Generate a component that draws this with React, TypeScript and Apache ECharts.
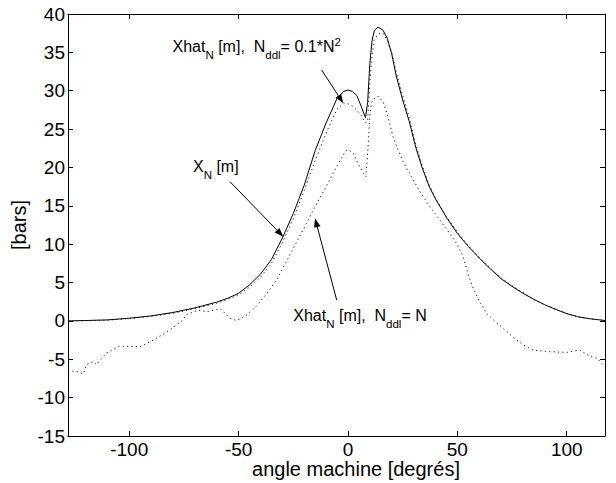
import React, { useEffect, useRef } from "react";
import * as echarts from "echarts";

// ---- data ----
const xTickValues = [-100, -50, 0, 50, 100];
const yMin = -15;
const yMax = 40;
const xMin = -128;
const xMax = 117.5;

// X_N[m] (solid) and Xhat_N[m], Nddl = 0.1*N^2 (dotted) share the same angles
const angles = [
  -128, -120, -110, -100, -90, -80, -70, -60, -55, -50, -45, -40, -35, -30, -25, -20, -15, -10, -5, -2, 0, 2, 4, 6, 8,
  9, 10, 11, 12, 13.7, 16, 18, 20, 22, 25, 28, 31, 34, 37, 40, 45, 50, 55, 60, 65, 70, 75, 80, 85, 90, 95, 100, 105,
  110, 117.5,
];
const xN = [
  0, 0.05, 0.13, 0.35, 0.65, 1.1, 1.7, 2.45, 2.95, 3.6, 4.7, 6.1, 8.0, 10.8, 14.0, 17.7, 22.2, 25.8, 29.0, 29.9, 30.1,
  29.9, 29.4, 28.0, 26.5, 28.5, 33.6, 36.5, 37.8, 38.3, 37.9, 36.8, 34.8, 32.0, 28.8, 26.0, 22.6, 19.9, 17.6, 15.9,
  13.5, 11.4, 9.7, 8.2, 6.8, 5.5, 4.5, 3.6, 2.8, 2.1, 1.5, 0.95, 0.55, 0.3, 0.05,
];
const xhatQuad = [
  0, 0.03, 0.1, 0.3, 0.6, 1.0, 1.6, 2.3, 2.8, 3.4, 4.4, 5.7, 7.5, 10.2, 13.3, 17.0, 20.9, 24.5, 27.6, 28.4, 28.3,
  28.0, 27.5, 26.8, 25.8, 26.2, 31.0, 34.5, 36.6, 37.4, 37.5, 36.6, 35.0, 32.5, 29.4, 26.5, 23.0, 20.2, 17.8, 16.0,
  13.6, 11.6, 9.8, 8.3, 6.9, 5.6, 4.6, 3.7, 2.8, 2.1, 1.5, 0.95, 0.55, 0.3, 0.05,
];

// Xhat_N[m], Nddl = N (dotted)
const anglesLin = [
  -128, -124, -121, -119.5, -116.5, -115, -110.5, -104.5, -95, -89, -81.5, -75.5, -74, -68.5, -64.5, -60, -58, -54, -51,
  -47, -42, -37.3, -32.7, -28.2, -24, -19, -15, -10, -5, -1, 0, 2.3, 5.3, 7.6, 8.2, 9.1, 9.9, 10.7, 12.2, 13.7, 16,
  18.3, 20.6, 22.9, 25.1, 29, 32.8, 37.4, 41.9, 46.5, 49.6, 52.6, 55, 57.2, 60, 63.3, 67, 70.9, 75, 80, 84.6, 92, 100,
  106, 110.5, 114, 117.5,
];
const xhatLin = [
  -6.5, -6.6, -6.9, -5.7, -5.3, -5.7, -4.2, -3.3, -3.35, -2.5, -1.2, 0.1, 0.8, 1.4, 1.2, 1.5, 1.5, 0.35, 0.05, 0.6,
  1.9, 3.5, 5.3, 7.7, 10.0, 12.7, 14.9, 17.5, 20.2, 22.2, 22.3, 21.9, 20.1, 19.0, 18.8, 22.3, 26.2, 28.5, 29.0, 29.3,
  28.6, 26.6, 24.0, 22.3, 20.8, 18.8, 16.9, 14.9, 13.2, 11.4, 10.1, 8.4, 6.0, 4.3, 2.6, 1.0, 0.0, -0.95, -2.0, -3.1,
  -3.8, -4.0, -4.1, -3.8, -4.6, -4.9, -6.0,
];

const xAxisName = "angle machine [degrés]";
const yAxisName = "[bars]";

const FONT = '"Liberation Sans", Arial, Helvetica, sans-serif';

type Tok = { t: string; kind: "n" | "sub" | "sup" };
const label1: Tok[] = [
  { t: "Xhat", kind: "n" },
  { t: "N", kind: "sub" },
  { t: " [m],  N", kind: "n" },
  { t: "ddl", kind: "sub" },
  { t: "= 0.1*N", kind: "n" },
  { t: "2", kind: "sup" },
];
const label2: Tok[] = [
  { t: "X", kind: "n" },
  { t: "N", kind: "sub" },
  { t: " [m]", kind: "n" },
];
const label3: Tok[] = [
  { t: "Xhat", kind: "n" },
  { t: "N", kind: "sub" },
  { t: " [m],  N", kind: "n" },
  { t: "ddl", kind: "sub" },
  { t: "= N", kind: "n" },
];

export default function App() {
  const ref = useRef<HTMLDivElement>(null);

  useEffect(() => {
    if (!ref.current) return;
    const chart = echarts.init(ref.current, undefined, { renderer: "svg" });

    const canvas = document.createElement("canvas");
    const ctx = canvas.getContext("2d")!;
    const measure = (t: string, size: number) => {
      ctx.font = `${size}px "Liberation Sans"`;
      return ctx.measureText(t).width;
    };

    const mainSize = 16;
    const smallSize = 11.5;

    const buildLabel = (toks: Tok[], x0: number, base: number) => {
      const els: any[] = [];
      let cx = x0;
      toks.forEach((tk) => {
        const size = tk.kind === "n" ? mainSize : smallSize;
        const b = tk.kind === "sub" ? base + 7 : tk.kind === "sup" ? base - 6 : base;
        els.push({
          type: "text",
          x: cx,
          y: b - 0.35 * size,
          style: {
            text: tk.t,
            fontSize: size,
            fontFamily: FONT,
            fill: "#000",
            textAlign: "left",
            textVerticalAlign: "middle",
          },
        });
        cx += measure(tk.t, size);
      });
      return els;
    };

    const arrow = (x1: number, y1: number, x2: number, y2: number) => {
      const dx = x2 - x1;
      const dy = y2 - y1;
      const L = Math.hypot(dx, dy);
      const ux = dx / L;
      const uy = dy / L;
      const hl = 9;
      const hw = 3.3;
      const bx = x2 - ux * hl;
      const by = y2 - uy * hl;
      return [
        { type: "line", shape: { x1, y1, x2: bx, y2: by }, style: { stroke: "#000", lineWidth: 1 } },
        {
          type: "polygon",
          shape: {
            points: [
              [x2, y2],
              [bx - uy * hw, by + ux * hw],
              [bx + uy * hw, by - ux * hw],
            ],
          },
          style: { fill: "#000" },
        },
      ];
    };

    const pairs = (xs: number[], ys: number[]) => xs.map((x, i) => [x, ys[i]]);
    const dotted = { color: "#111", width: 1, type: [1.2, 3.2] as any };

    const axisCommon = {
      type: "value" as const,
      axisLine: { show: true, onZero: false, lineStyle: { color: "#000", width: 1 } },
      splitLine: { show: false },
    };

    chart.setOption({
      animation: false,
      backgroundColor: "#fff",
      grid: { left: 68, top: 14, right: 11, bottom: 47, containLabel: false },
      xAxis: [
        {
          ...axisCommon,
          min: xMin,
          max: xMax,
          position: "bottom",
          axisTick: { show: true, inside: true, length: 5, customValues: xTickValues, lineStyle: { color: "#000" } },
          axisLabel: {
            customValues: xTickValues,
            color: "#000",
            fontSize: 19,
            fontFamily: FONT,
            margin: 4,
          },
        },
        {
          ...axisCommon,
          min: xMin,
          max: xMax,
          position: "top",
          axisTick: { show: true, inside: true, length: 5, customValues: xTickValues, lineStyle: { color: "#000" } },
          axisLabel: { show: false },
        },
      ],
      yAxis: [
        {
          ...axisCommon,
          min: yMin,
          max: yMax,
          interval: 5,
          position: "left",
          axisTick: { show: true, inside: true, length: 5, lineStyle: { color: "#000" } },
          axisLabel: { color: "#000", fontSize: 19, fontFamily: FONT, margin: 3 },
        },
        {
          ...axisCommon,
          min: yMin,
          max: yMax,
          interval: 5,
          position: "right",
          axisTick: { show: true, inside: true, length: 5, lineStyle: { color: "#000" } },
          axisLabel: { show: false },
        },
      ],
      series: [
        {
          type: "line",
          name: "X_N[m]",
          data: pairs(angles, xN),
          symbol: "none",
          lineStyle: { color: "#000", width: 1 },
          xAxisIndex: 0,
          yAxisIndex: 0,
        },
        {
          type: "line",
          name: "Xhat_N[m], Nddl=0.1*N^2",
          data: pairs(angles, xhatQuad),
          symbol: "none",
          lineStyle: dotted,
          xAxisIndex: 0,
          yAxisIndex: 0,
        },
        {
          type: "line",
          name: "Xhat_N[m], Nddl=N",
          data: pairs(anglesLin, xhatLin),
          symbol: "none",
          lineStyle: dotted,
          xAxisIndex: 0,
          yAxisIndex: 0,
        },
      ],
      graphic: [
        ...buildLabel(label1, 172.5, 52),
        ...buildLabel(label2, 193, 172),
        ...buildLabel(label3, 293.3, 321),
        ...arrow(321.7, 70, 343.3, 103.3),
        ...arrow(230, 181.7, 283.3, 236.7),
        ...arrow(336.7, 300, 315, 218.3),
        {
          type: "text",
          x: 356,
          y: 469,
          style: {
            text: xAxisName,
            fontSize: 20,
            fontFamily: FONT,
            fill: "#000",
            textAlign: "center",
            textVerticalAlign: "middle",
          },
        },
        {
          type: "text",
          x: 19,
          y: 225,
          rotation: Math.PI / 2,
          style: {
            text: yAxisName,
            fontSize: 20,
            fontFamily: FONT,
            fill: "#000",
            textAlign: "center",
            textVerticalAlign: "middle",
          },
        },
      ],
    });

    return () => chart.dispose();
  }, []);

  return (
    <div
      ref={ref}
      style={{ position: "fixed", left: 0, top: 0, width: 616, height: 483, background: "#fff" }}
    />
  );
}
